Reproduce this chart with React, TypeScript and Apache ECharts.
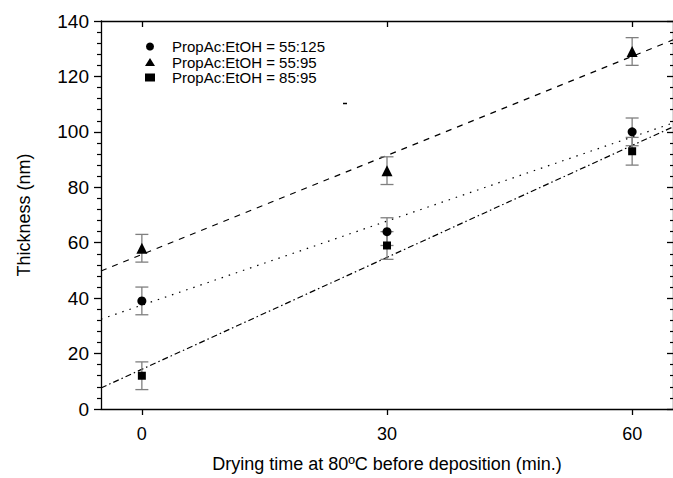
import React, { useEffect, useRef } from "react";
import * as echarts from "echarts";

const timeMin = [0, 30, 60];
const xTickValues = [0, 30, 60];
const ratio55_125 = [39, 64, 100];
const ratio55_95 = [58, 86, 129];
const ratio85_95 = [12, 59, 93];
const err55_125 = [5, 5, 5];
const err55_95 = [5, 5, 5];
const err85_95 = [5, 5, 5];
const fitX = [-5, 65];
const fit55_125 = [32.4, 103.2];
const fit55_95 = [49.8, 133.2];
const fit85_95 = [7.6, 101.8];

const names = ["PropAc:EtOH = 55:125", "PropAc:EtOH = 55:95", "PropAc:EtOH = 85:95"];

const FONT = "'Liberation Sans', Arial, sans-serif";

function errData(vals: number[], errs: number[]) {
  return timeMin.map((t, i) => [t, vals[i] - errs[i], vals[i] + errs[i]]);
}

function renderErr(params: any, api: any) {
  const x = api.value(0);
  const p1 = api.coord([x, api.value(1)]);
  const p2 = api.coord([x, api.value(2)]);
  const w = 6.5;
  const st = { stroke: "#7f7f7f", lineWidth: 1.3 };
  return {
    type: "group",
    children: [
      { type: "line", shape: { x1: p1[0], y1: p1[1], x2: p2[0], y2: p2[1] }, style: st },
      { type: "line", shape: { x1: p1[0] - w, y1: p1[1], x2: p1[0] + w, y2: p1[1] }, style: st },
      { type: "line", shape: { x1: p2[0] - w, y1: p2[1], x2: p2[0] + w, y2: p2[1] }, style: st },
    ],
  };
}

export default function App() {
  const ref = useRef<HTMLDivElement>(null);
  useEffect(() => {
    if (!ref.current) return;
    const chart = echarts.init(ref.current, null, { renderer: "svg" });
    const axisLine = { show: true, onZero: false, lineStyle: { color: "#000", width: 1.3 } };
    const fitLine = (name: string, vals: number[], type: any) => ({
      type: "line",
      name: name + " fit",
      data: fitX.map((x, i) => [x, vals[i]]),
      symbol: "none",
      clip: true,
      z: 1,
      lineStyle: { color: "#000", width: 1.2, type },
    });
    const scatter = (name: string, vals: number[], symbol: string, size: number) => ({
      type: "scatter",
      name,
      data: timeMin.map((t, i) => [t, vals[i]]),
      symbol,
      symbolSize: size,
      itemStyle: { color: "#000", opacity: 1 },
      z: 4,
    });
    const errSeries = (vals: number[], errs: number[]) => ({
      type: "custom",
      data: errData(vals, errs),
      renderItem: renderErr,
      encode: { x: 0, y: [1, 2] },
      z: 2,
      silent: true,
    });
    chart.setOption({
      animation: false,
      backgroundColor: "#fff",
      grid: { left: 101, top: 21, right: 0, bottom: 69 },
      legend: {
        data: [
          { name: names[0], icon: "circle" },
          { name: names[1], icon: "triangle" },
          { name: names[2], icon: "rect" },
        ],
        orient: "vertical",
        left: 140,
        top: 34,
        itemWidth: 10,
        itemHeight: 8,
        itemGap: 0.5,
        textStyle: { fontFamily: FONT, fontSize: 15, lineHeight: 13, color: "#000", padding: [0, 0, 0, 12] },
      },
      xAxis: [
        {
          type: "value",
          min: -5,
          max: 65,
          position: "bottom",
          axisLine,
          splitLine: { show: false },
          axisTick: { show: true, inside: false, length: 6, customValues: xTickValues, lineStyle: { color: "#000", width: 1.3 } },
          axisLabel: { customValues: xTickValues, fontFamily: FONT, fontSize: 18, color: "#000", margin: 16 },
          name: "Drying time at 80ºC before deposition (min.)",
          nameLocation: "middle",
          nameGap: 46,
          nameTextStyle: { fontFamily: FONT, fontSize: 18, color: "#000" },
        },
        {
          type: "value",
          min: -5,
          max: 65,
          position: "top",
          axisLine,
          splitLine: { show: false },
          axisTick: { show: true, inside: true, length: 6, customValues: xTickValues, lineStyle: { color: "#000", width: 1.3 } },
          axisLabel: { show: false },
        },
      ],
      yAxis: [
        {
          type: "value",
          min: 0,
          max: 140,
          interval: 20,
          position: "left",
          axisLine,
          splitLine: { show: false },
          axisTick: { show: true, inside: false, length: 7, lineStyle: { color: "#000", width: 1.3 } },
          minorTick: { show: true, splitNumber: 5, length: 4, lineStyle: { color: "#000", width: 1.2 } },
          minorSplitLine: { show: false },
          axisLabel: { fontFamily: FONT, fontSize: 19, color: "#000", margin: 12 },
          name: "Thickness (nm)",
          nameLocation: "middle",
          nameGap: 68,
          nameTextStyle: { fontFamily: FONT, fontSize: 18, color: "#000" },
        },
        {
          type: "value",
          min: 0,
          max: 140,
          interval: 20,
          position: "right",
          axisLine,
          splitLine: { show: false },
          axisTick: { show: true, inside: true, length: 6, lineStyle: { color: "#000", width: 1.3 } },
          minorTick: { show: true, splitNumber: 5, length: 3, lineStyle: { color: "#000", width: 1.2 } },
          minorSplitLine: { show: false },
          axisLabel: { show: false },
        },
      ],
      series: [
        fitLine(names[1], fit55_95, [6, 6]),
        fitLine(names[0], fit55_125, [1.5, 6]),
        fitLine(names[2], fit85_95, [6, 3, 1.5, 3]),
        errSeries(ratio55_125, err55_125),
        errSeries(ratio55_95, err55_95),
        errSeries(ratio85_95, err85_95),
        scatter(names[0], ratio55_125, "circle", 9),
        scatter(names[1], ratio55_95, "triangle", 11),
        scatter(names[2], ratio85_95, "rect", 8),
      ],
      graphic: [
        { type: "line", shape: { x1: 343, y1: 103.5, x2: 347, y2: 103.5 }, style: { stroke: "#000", lineWidth: 1.5 } },
      ],
    });
    return () => chart.dispose();
  }, []);
  return <div ref={ref} style={{ position: "fixed", left: 0, top: 0, width: 673, height: 478 }} />;
}
